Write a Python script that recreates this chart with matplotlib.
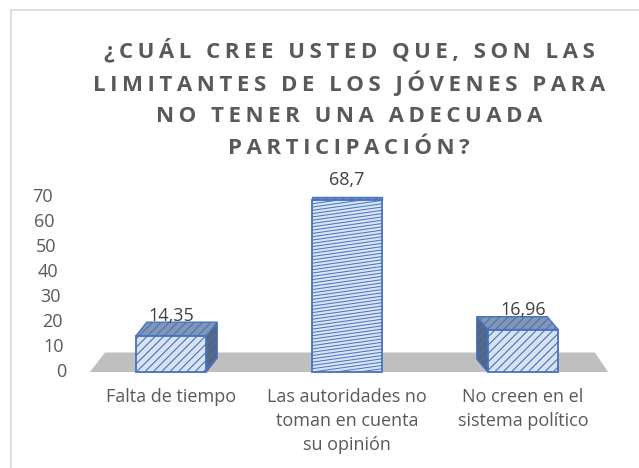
import numpy as np
import matplotlib.pyplot as plt
from matplotlib.patches import Polygon, Rectangle

# data
categories = ['Falta de tiempo',
              'Las autoridades no\ntoman en cuenta\nsu opinión',
              'No creen en el\nsistema político']
values = [14.35, 68.7, 16.96]
value_labels = ['14,35', '68,7', '16,96']
y_ticks = [0, 10, 20, 30, 40, 50, 60, 70]
title_lines = ['¿CUÁL CREE USTED QUE, SON LAS',
               'LIMITANTES DE LOS JÓVENES PARA',
               'NO TENER UNA ADECUADA',
               'PARTICIPACIÓN?']

plt.rcParams['font.family'] = ['Open Sans', 'DejaVu Sans']
plt.rcParams['hatch.linewidth'] = 0.8

txt = '#595959'
blue = '#4472c4'
front_c = '#dae3f3'
top_c = '#8497b0'
side_c = '#56657f'
floor_c = '#bfbfbf'

W, H = 639, 468
fig = plt.figure(figsize=(W / 100, H / 100), dpi=100)
ax = fig.add_axes([83 / W, 96 / H, 528 / W, 175 / H])
ax.set_xlim(-0.5, 2.5)
ax.set_ylim(0, 70)
ax.axis('off')

# pixels per data unit
sx = 528 / 3
sy = 175 / 70

# chart border
fig.add_artist(Rectangle((11 / W, -0.1), 2, 1 - 10 / H + 0.1, transform=fig.transFigure,
                         fill=False, ec='#d9d9d9', lw=1.2))

# floor (3d base)
fdep = 19.5 / sy
floor = Polygon([(-0.5 + 7 / sx, 0), (-0.5 + 22 / sx, fdep),
                 (2.5 - 16 / sx, fdep), (2.5 - 3 / sx, 0)],
                closed=True, fc=floor_c, ec='none', zorder=1, clip_on=False)
ax.add_patch(floor)

x = np.arange(len(categories))
w = 0.4


def depth_px(v):
    # vertical offset of the back face, crude perspective
    return max(0.16 * (123 - sy * v), 3)


for i, v in enumerate(values):
    dx = -11 * (i - 1) / sx
    dy = depth_px(v) / sy
    xl, xr = x[i] - w / 2, x[i] + w / 2
    # side face
    if dx > 0:
        side = [(xr, 0), (xr, v), (xr + dx, v + dy), (xr + dx, dy)]
    elif dx < 0:
        side = [(xl, 0), (xl, v), (xl + dx, v + dy), (xl + dx, dy)]
    else:
        side = None
    if side is not None:
        ax.add_patch(Polygon(side, closed=True, fc=side_c, ec=blue, lw=1.0,
                             hatch='////', zorder=2, clip_on=False))
    # top face
    top = [(xl, v), (xr, v), (xr + dx, v + dy), (xl + dx, v + dy)]
    ax.add_patch(Polygon(top, closed=True, fc=top_c, ec=blue, lw=1.0,
                         hatch='////', zorder=2, clip_on=False))

bars = ax.bar(x, values, width=w, color=front_c, edgecolor=blue, lw=1.3,
              zorder=3, clip_on=False)
for i, b in enumerate(bars):
    if values[i] < 40:
        b.set_hatch('////')
    else:
        # tall bar: shallow hatch lines
        rise = 10 / sy
        step = 3.3 / sy
        for yy in np.arange(-rise, values[i], step):
            ln, = ax.plot([x[i] - w / 2, x[i] + w / 2], [yy, yy + rise],
                          color=blue, lw=0.7, zorder=3.5, clip_on=True)
            ln.set_clip_path(b)

# data labels
for i, v in enumerate(values):
    ax.text(x[i], v + 6, value_labels[i], ha='center', va='baseline',
            fontsize=13, color='#404040', zorder=5, clip_on=False)

# y tick labels, slanted like the 3d wall
for t in y_ticks:
    ax.annotate(str(t), xy=(-0.5, t), xytext=(-17 - 13 * t / 70, 0),
                textcoords='offset pixels', ha='right', va='center',
                fontsize=13, color=txt)

# category labels
for i, c in enumerate(categories):
    ax.annotate(c, xy=(x[i], 0), xytext=(0, -16), textcoords='offset pixels',
                ha='center', va='top', multialignment='center',
                fontsize=13, color=txt, linespacing=1.42)

# title with letter spacing
for k, line in enumerate(title_lines):
    spaced = '\u2009'.join(line)
    fig.text(349 / W, 1 - (50 + 33 * k) / H, spaced, ha='center', va='center',
             fontsize=16, fontweight='bold', color=txt)

fig.savefig('out.png', dpi=100)
